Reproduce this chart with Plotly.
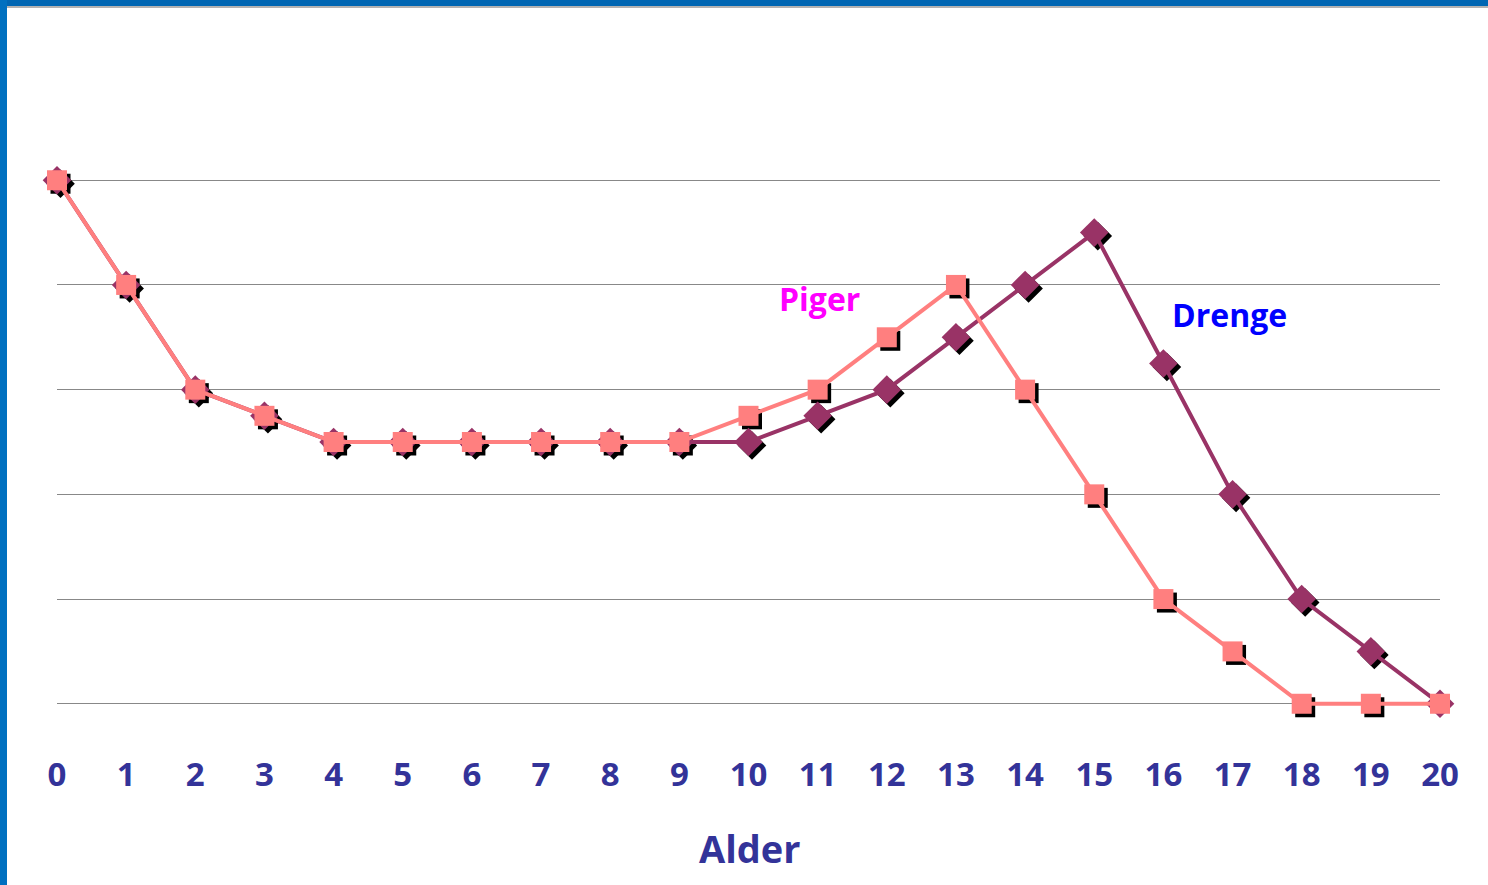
import plotly.graph_objects as go

ages = list(range(21))
tick_labels = [str(a) for a in ages]
piger = [5, 4, 3, 2.75, 2.5, 2.5, 2.5, 2.5, 2.5, 2.5, 2.75, 3, 3.5, 4, 3, 2, 1, 0.5, 0, 0, 0]
drenge = [5, 4, 3, 2.75, 2.5, 2.5, 2.5, 2.5, 2.5, 2.5, 2.5, 2.75, 3, 3.5, 4, 4.5, 3.25, 2, 1, 0.5, 0]

PINK = "#FF7F7F"
PURPLE = "#993366"
TXT = "#333399"

W, H = 1488, 885
ML, MR, MT, MB = 57, 48, 175, 176
PW, PH = W - ML - MR, H - MT - MB
X0, X1 = 0, 20
Y0, Y1 = -0.05, 5.05

fig = go.Figure()

# invisible anchor trace so the base axes (grid + tick labels) are drawn
fig.add_trace(go.Scatter(x=ages, y=piger, mode="lines", line=dict(width=0, color="white"),
                         opacity=0, hoverinfo="skip", showlegend=False))
# shadow traces on slightly shifted overlay axes (drop-shadow effect)
fig.add_trace(go.Scatter(x=ages, y=drenge, mode="markers", xaxis="x2", yaxis="y2",
                         marker=dict(symbol="diamond", size=22, color="black"),
                         cliponaxis=False, hoverinfo="skip", showlegend=False))
fig.add_trace(go.Scatter(x=ages, y=piger, mode="markers", xaxis="x2", yaxis="y2",
                         marker=dict(symbol="square", size=20, color="black"),
                         cliponaxis=False, hoverinfo="skip", showlegend=False))
fig.add_trace(go.Scatter(x=ages, y=drenge, mode="lines+markers", name="Drenge",
                         xaxis="x3", yaxis="y3",
                         line=dict(color=PURPLE, width=4),
                         marker=dict(symbol="diamond", size=22, color=PURPLE),
                         cliponaxis=False, showlegend=False))
fig.add_trace(go.Scatter(x=ages, y=piger, mode="lines+markers", name="Piger",
                         xaxis="x3", yaxis="y3",
                         line=dict(color=PINK, width=4),
                         marker=dict(symbol="square", size=20, color=PINK),
                         cliponaxis=False, showlegend=False))

dx = 3.5 * (X1 - X0) / PW
dy = 3.5 * (Y1 - Y0) / PH

fig.update_layout(
    width=W, height=H,
    margin=dict(l=ML, r=MR, t=MT, b=MB, autoexpand=False),
    paper_bgcolor="white", plot_bgcolor="white",
    xaxis=dict(range=[X0, X1], tickmode="array", tickvals=ages, ticktext=tick_labels,
               showgrid=False, zeroline=False, showline=False, ticks="",
               tickfont=dict(family="Open Sans", size=33, color=TXT, weight="bold"),
               ticklabelstandoff=43),
    yaxis=dict(range=[Y0, Y1], tickmode="array", tickvals=[0, 1, 2, 3, 4, 5],
               showgrid=True, gridcolor="#888888", gridwidth=1,
               zeroline=False, showline=False, showticklabels=False, ticks=""),
    xaxis2=dict(range=[X0 - dx, X1 - dx], overlaying="x", visible=False),
    yaxis2=dict(range=[Y0 + dy, Y1 + dy], overlaying="y", visible=False),
    xaxis3=dict(range=[X0, X1], overlaying="x", visible=False),
    yaxis3=dict(range=[Y0, Y1], overlaying="y", visible=False),
    font=dict(family="Open Sans"),
)

fig.add_annotation(x=11.03, y=3.87, xref="x3", yref="y3", text="<b>Piger</b>", showarrow=False,
                   font=dict(family="Open Sans", size=32, color="#FF00FF"))
fig.add_annotation(x=16.95, y=3.72, xref="x3", yref="y3", text="<b>Drenge</b>", showarrow=False,
                   font=dict(family="Open Sans", size=32, color="#0000FF"))
fig.add_annotation(x=(750 - ML) / PW, y=(H - MB - 848) / PH, xref="paper", yref="paper",
                   xanchor="center", yanchor="middle",
                   text="<b>Alder</b>", showarrow=False,
                   font=dict(family="Open Sans", size=38, color=TXT))

# frame: top bar and left bar
def px_x(p):
    return (p - ML) / PW

def px_y(p):
    return (H - MB - p) / PH

fig.add_shape(type="rect", xref="paper", yref="paper",
              x0=px_x(0), x1=px_x(W), y0=px_y(6), y1=px_y(0),
              line_width=0, fillcolor="#0066B3", layer="above")
fig.add_shape(type="line", xref="paper", yref="paper",
              x0=px_x(7), x1=px_x(W), y0=px_y(7), y1=px_y(7),
              line=dict(color="#999999", width=1.5))
fig.add_shape(type="rect", xref="paper", yref="paper",
              x0=px_x(0), x1=px_x(7), y0=px_y(H), y1=px_y(0),
              line_width=0, fillcolor="#0070C0", layer="above")

fig.write_html("out.html", config={"displayModeBar": False},
               post_script="document.body.style.margin='0';document.body.style.overflow='hidden';")
